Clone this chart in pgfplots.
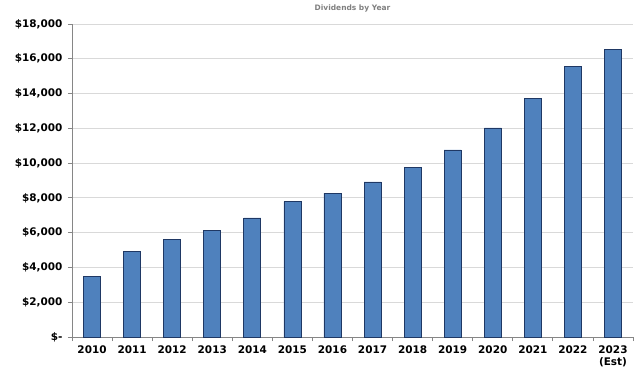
\documentclass[border=0pt]{standalone}
\usepackage{fontspec}
\setmainfont{DejaVu Sans}
\usepackage{pgfplots}
\pgfplotsset{compat=1.18}
\definecolor{barblue}{HTML}{4F81BD}
\definecolor{baredge}{HTML}{1F3864}
\definecolor{gridgray}{HTML}{D9D9D9}
\definecolor{axisgray}{HTML}{868686}
\definecolor{titlegray}{HTML}{7F7F7F}
\begin{document}
\begin{tikzpicture}
\path[use as bounding box] (-72bp,-43bp) rectangle (568bp,337bp);
\begin{axis}[
  scale only axis,
  width=561bp, height=313bp,
  ybar, bar width=17bp,
  xmin=-0.5, xmax=13.5,
  ymin=0, ymax=18000,
  scaled y ticks=false,
  xtick={0,...,13},
  xticklabels={2010,2011,2012,2013,2014,2015,2016,2017,2018,2019,2020,2021,2022,{2023\\(Est)}},
  minor xtick={-0.5,0.5,...,13.5},
  ytick={0,2000,...,18000},
  yticklabels={\$-,{\$2,000},{\$4,000},{\$6,000},{\$8,000},{\$10,000},{\$12,000},{\$14,000},{\$16,000},{\$18,000}},
  axis x line*=bottom, axis y line*=left,
  axis line style={axisgray, line width=0.8pt, -},
  ymajorgrids, grid style={gridgray, line width=0.8pt},
  tick align=outside,
  major tick length=4bp, minor tick length=4bp,
  xtick style={draw=none},
  minor x tick style={draw=axisgray, line width=0.8pt},
  ytick style={axisgray, line width=0.8pt},
  tick label style={font=\fontsize{10.5}{12}\selectfont\bfseries, text=black},
  xticklabel style={align=center, yshift=-1bp},
  yticklabel style={xshift=-2bp},
  title={Dividends by Year},
  title style={font=\fontsize{7.5}{8}\selectfont\bfseries, text=titlegray, yshift=2bp},
  clip=false,
]
\addplot[fill=barblue, draw=baredge, line width=0.7pt] coordinates {
(0,3500) (1,4900) (2,5600) (3,6150) (4,6850) (5,7780) (6,8270) (7,8920) (8,9730) (9,10760) (10,12020) (11,13700) (12,15560) (13,16520)
};
\end{axis}
\end{tikzpicture}
\end{document}
